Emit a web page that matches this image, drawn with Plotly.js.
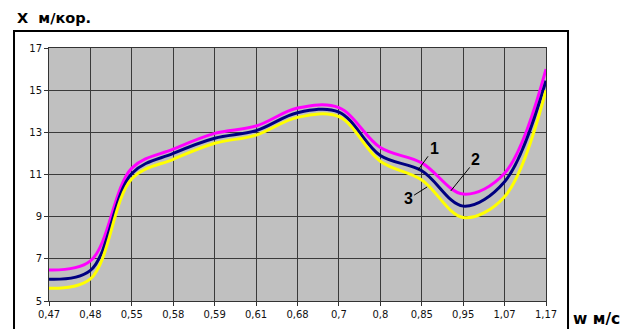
<!DOCTYPE html>
<html>
<head>
<meta charset="utf-8">
<script src="https://cdn.plot.ly/plotly-3.0.1.min.js"></script>
<style>
  html, body { margin: 0; padding: 0; background: #ffffff; }
  #chart { width: 632px; height: 329px; }
</style>
</head>
<body>
<div id="chart"></div>
<script>
// Flow speed w (м/с) categories
const speeds = ["0,47", "0,48", "0,55", "0,58", "0,59", "0,61", "0,68", "0,7", "0,8", "0,85", "0,95", "1,07", "1,17"];

// X (м/кор.) for the three curves
const curve1 = [6.03, 6.45, 11.05, 12.0, 12.72, 13.08, 13.93, 13.96, 11.9, 11.18, 9.5, 10.66, 15.45];
const curve2 = [6.47, 6.9, 11.3, 12.2, 12.95, 13.3, 14.15, 14.17, 12.28, 11.55, 10.07, 11.06, 16.0];
const curve3 = [5.6, 6.05, 10.8, 11.72, 12.48, 12.87, 13.71, 13.74, 11.63, 10.74, 8.96, 9.95, 15.0];

const yTicks = [5, 7, 9, 11, 13, 15, 17];

function line(y, color, name) {
  return {
    type: "scatter",
    mode: "lines",
    x: speeds,
    y: y,
    name: name,
    line: { color: color, width: 3, shape: "spline", smoothing: 1 },
    hoverinfo: "skip"
  };
}

const data = [
  line(curve2, "#ff00ff", "2"),
  line(curve1, "#000080", "1"),
  line(curve3, "#ffff00", "3")
];

const tickFont = { family: "DejaVu Sans, Arial, sans-serif", size: 10, color: "#111111" };
const labelFont = { family: "Liberation Sans, Arial, sans-serif", size: 16, color: "#000000" };

function callout(text, x, y, ax, ay) {
  return {
    text: "<b>" + text + "</b>",
    xref: "x", yref: "y",
    x: x, y: y,
    ax: ax, ay: ay,
    showarrow: true,
    arrowhead: 0,
    arrowwidth: 1,
    arrowcolor: "#000000",
    standoff: 0,
    font: labelFont
  };
}

const layout = {
  width: 632,
  height: 329,
  margin: { l: 49, r: 86, t: 48, b: 28, pad: 0 },
  paper_bgcolor: "#ffffff",
  plot_bgcolor: "#c0c0c0",
  showlegend: false,
  xaxis: {
    type: "category",
    range: [0, speeds.length - 1],
    showgrid: true,
    gridcolor: "#3a3a3a",
    gridwidth: 1,
    showline: true,
    mirror: true,
    linecolor: "#333333",
    linewidth: 1,
    ticks: "outside",
    ticklen: 4,
    tickcolor: "#333333",
    tickfont: tickFont,
    fixedrange: true
  },
  yaxis: {
    range: [5, 17],
    tickvals: yTicks,
    ticktext: yTicks.map(String),
    showgrid: true,
    gridcolor: "#3a3a3a",
    gridwidth: 1,
    zeroline: false,
    showline: true,
    mirror: true,
    linecolor: "#333333",
    linewidth: 1,
    ticks: "outside",
    ticklen: 4,
    tickcolor: "#333333",
    tickfont: tickFont,
    fixedrange: true
  },
  shapes: [
    {
      type: "rect", xref: "paper", yref: "paper",
      x0: -0.0704, x1: 1.0443, y0: -0.16, y1: 1.067,
      line: { color: "#000000", width: 2 },
      fillcolor: "rgba(0,0,0,0)",
      layer: "below"
    }
  ],
  annotations: [
    {
      text: "<b>X  м/кор.</b>",
      xref: "paper", yref: "paper",
      x: -0.068, y: 1.118,
      xanchor: "left", yanchor: "middle",
      showarrow: false,
      font: { family: "DejaVu Sans, Arial, sans-serif", size: 14.5, color: "#000000" }
    },
    {
      text: "<b>w м/с</b>",
      xref: "paper", yref: "paper",
      x: 1.05, y: -0.072,
      xanchor: "left", yanchor: "middle",
      showarrow: false,
      font: { family: "DejaVu Sans, Arial, sans-serif", size: 15.5, color: "#000000" }
    },
    callout("1", 8.91, 11.21, 16, -22),
    callout("2", 9.7, 10.22, 25, -31),
    callout("3", 9.13, 10.41, -19, 12)
  ]
};

Plotly.newPlot("chart", data, layout, { staticPlot: true, displayModeBar: false });
</script>
</body>
</html>
